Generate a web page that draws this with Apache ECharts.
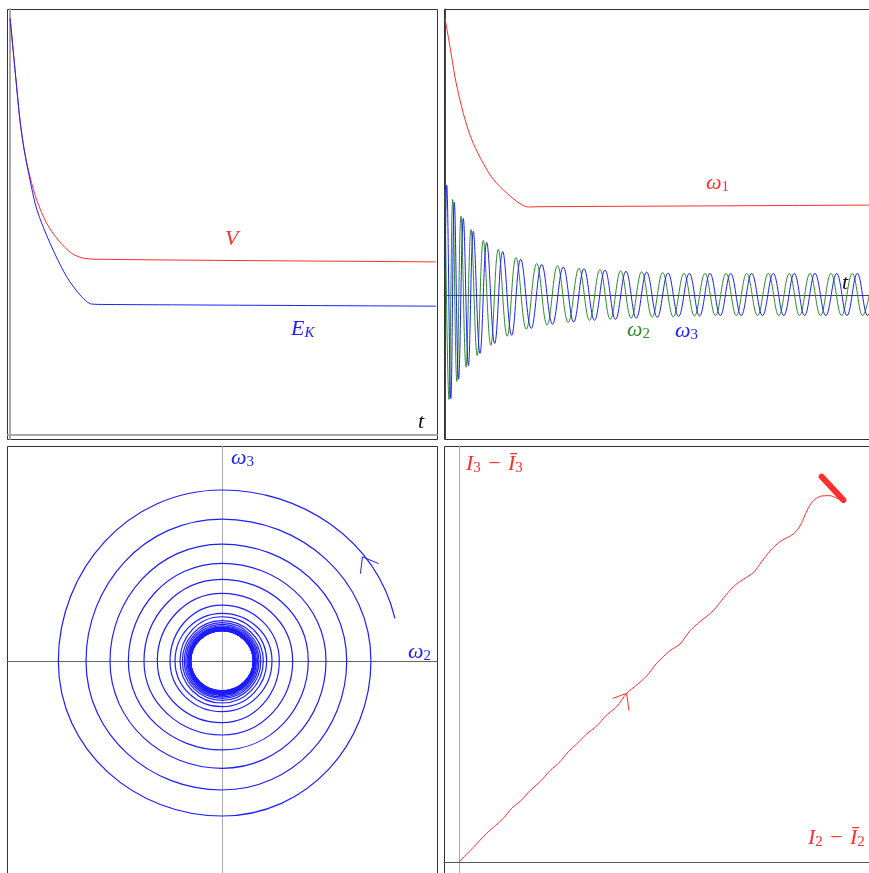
<!DOCTYPE html>
<html>
<head>
<meta charset="utf-8">
<script src="https://cdn.jsdelivr.net/npm/echarts@6/dist/echarts.min.js"></script>
<style>
  html, body { margin: 0; padding: 0; background: #fff; }
  #chart { width: 869px; height: 873px; }
</style>
</head>
<body>
<div id="chart"></div>
<script>
// ---- Panel 1: potential V and kinetic energy E_K against t ----
const potentialV = [[0, 9.78], [0.26, 8.41], [0.46, 7.39], [0.66, 6.69], [0.93, 6.06], [1.25, 5.51],
  [1.71, 4.97], [2.26, 4.57], [2.886, 4.26], [3.51, 4.14], [4.45, 4.12], [11.2, 4.09], [19.95, 4.06]];
const kineticEK = [[0, 9.78], [0.26, 8.41], [0.46, 7.39], [0.66, 6.69], [0.884, 6.10], [1.245, 5.30],
  [1.868, 4.50], [2.651, 3.71], [3.354, 3.24], [3.822, 3.07], [4.445, 3.06], [19.95, 3.02]];

// ---- Panel 2: angular velocity components against t ----
const omega1 = [[0, 6.44], [0.231, 5.78], [0.465, 5.08], [0.699, 4.54], [1.012, 3.96], [1.322, 3.535],
  [1.79, 3.07], [2.259, 2.70], [2.887, 2.38], [3.51, 2.135], [3.899, 2.056], [4.45, 2.062], [12, 2.08], [20.05, 2.10]];
// turning points (peaks and troughs) of the two transverse components
const omega2 = [[0, 2.44], [0.184, -2.42], [0.358, 2.23], [0.552, -2.0], [0.746, 1.84], [0.981, -1.67],
  [1.215, 1.53], [1.506, -1.40], [1.791, 1.28], [2.143, -1.16], [2.494, 1.07], [2.911, -0.95],
  [3.324, 0.88], [3.807, -0.79], [4.294, 0.74], [4.781, -0.69], [5.268, 0.69], [5.77, -0.63],
  [6.276, 0.63], [6.768, -0.58], [7.26, 0.60], [7.743, -0.56], [8.23, 0.57], [8.722, -0.53],
  [9.214, 0.55], [9.706, -0.51], [10.198, 0.53], [10.695, -0.50], [11.196, 0.51], [11.688, -0.48],
  [12.18, 0.51], [12.672, -0.47], [13.165, 0.51], [13.648, -0.47], [14.135, 0.51], [14.641, -0.47],
  [15.147, 0.51], [15.639, -0.47], [16.131, 0.51], [16.613, -0.47], [17.101, 0.51], [17.593, -0.47],
  [18.085, 0.51], [18.582, -0.47], [19.083, 0.51], [19.565, -0.47], [20.05, 0.51]];
const omega3 = [[0, 0.6], [0.076, 2.56], [0.269, -2.40], [0.433, 2.16], [0.634, -1.95], [0.854, 1.79],
  [1.093, -1.63], [1.323, 1.49], [1.637, -1.35], [1.951, 1.23], [2.326, -1.12], [2.70, 1.02],
  [3.122, -0.93], [3.544, 0.84], [4.036, -0.77], [4.528, 0.72], [5.034, -0.67], [5.54, 0.66],
  [6.028, -0.62], [6.51, 0.62], [7.002, -0.58], [7.494, 0.59], [7.986, -0.56], [8.478, 0.56],
  [8.961, -0.53], [9.448, 0.54], [9.945, -0.51], [10.447, 0.52], [10.943, -0.49], [11.445, 0.51],
  [11.927, -0.48], [12.415, 0.51], [12.898, -0.47], [13.385, 0.51], [13.877, -0.47], [14.369, 0.51],
  [14.875, -0.47], [15.381, 0.51], [15.873, -0.47], [16.365, 0.51], [16.848, -0.47], [17.335, 0.51],
  [17.841, -0.47], [18.352, 0.51], [18.835, -0.47], [19.317, 0.51], [19.8, -0.47], [20.29, 0.51]];

// ---- Panel 3: phase portrait (omega2, omega3) ----
// starting point, then the axis crossings of each turn
const spiralStart = [2.574, 0.635];
const crossTop    = [2.545, 2.113, 1.741, 1.454, 1.216, 1.007, 0.833, 0.710, 0.659, 0.600, 0.570, 0.545, 0.525,
  0.508, 0.500, 0.494, 0.489, 0.485, 0.481, 0.477, 0.474, 0.471, 0.468, 0.465, 0.462, 0.459, 0.457, 0.455, 0.453, 0.451, 0.449];
const crossLeft   = [2.436, 2.024, 1.667, 1.394, 1.161, 0.963, 0.774, 0.699, 0.625, 0.590, 0.562, 0.540, 0.520,
  0.504, 0.498, 0.494, 0.490, 0.487, 0.484, 0.481, 0.479, 0.477, 0.475, 0.473, 0.471, 0.470, 0.469, 0.468, 0.467, 0.466, 0.465];
const crossBottom = [2.307, 1.920, 1.597, 1.324, 1.101, 0.918, 0.754, 0.680, 0.625, 0.585, 0.556, 0.535, 0.515,
  0.500, 0.493, 0.487, 0.482, 0.478, 0.474, 0.470, 0.466, 0.463, 0.460, 0.457, 0.454, 0.451, 0.449, 0.447, 0.445, 0.443, 0.442];
const crossRight  = [2.217, 1.856, 1.548, 1.284, 1.052, 0.853, 0.744, 0.665, 0.615, 0.578, 0.550, 0.530, 0.512,
  0.497, 0.494, 0.490, 0.487, 0.484, 0.481, 0.479, 0.477, 0.475, 0.473, 0.471, 0.470, 0.469, 0.468, 0.467, 0.466, 0.465, 0.465];
const spiralArrow = [[2.33, 1.45], [2.09, 1.55], [2.06, 1.30]];

// ---- Panel 4: (I2 - Ī2, I3 - Ī3) trajectory ----
const inertiaPath = [[0, 0], [0.333, 0.341], [0.643, 0.667], [0.798, 0.806], [1.031, 1.016], [1.225, 1.248],
  [1.457, 1.442], [1.651, 1.659], [1.884, 1.868], [2.116, 2.124], [2.349, 2.333], [2.543, 2.566],
  [2.736, 2.744], [2.969, 2.977], [3.202, 3.163], [3.434, 3.419], [3.667, 3.612], [3.899, 3.922],
  [4.132, 4.116], [4.364, 4.326], [4.597, 4.620], [4.907, 4.915], [5.140, 5.070], [5.372, 5.380],
  [5.605, 5.589], [5.915, 5.845], [6.147, 6.132], [6.380, 6.403], [6.612, 6.574], [6.845, 6.729],
  [7.039, 6.984], [7.233, 7.233], [7.465, 7.450], [7.775, 7.628], [7.930, 7.814], [8.047, 8.070],
  [8.163, 8.302], [8.279, 8.434], [8.434, 8.512], [8.628, 8.519], [8.822, 8.442], [8.938, 8.419]];
const inertiaLimit = [[8.938, 8.419], [8.435, 8.96]];
const inertiaArrow = [[3.574, 3.805], [3.899, 3.922], [3.953, 3.519]];

// spiral vertices in drawing order, then consecutive pairs as arc pieces
const spiralPts = [spiralStart];
for (let i = 0; i < crossTop.length; i++) {
  spiralPts.push([0, crossTop[i]], [-crossLeft[i], 0], [0, -crossBottom[i]], [crossRight[i], 0]);
}
const spiralPieces = [];
for (let i = 0; i + 1 < spiralPts.length; i++) {
  spiralPieces.push([spiralPts[i][0], spiralPts[i][1], spiralPts[i + 1][0], spiralPts[i + 1][1]]);
}

const RED = 'rgb(255,45,45)', BLUE = 'rgb(30,30,255)', GREEN = 'rgb(45,140,45)', INK = '#111';
const SERIF = '"Liberation Serif", "DejaVu Serif", serif';

// one piece of the spiral: a cubic arc between two vertices, tangent to circles about the origin
function renderSpiralPiece(params, api) {
  const c = api.coord([0, 0]);
  const p0 = api.coord([api.value(0), api.value(1)]);
  const p1 = api.coord([api.value(2), api.value(3)]);
  const a0 = Math.atan2(p0[1] - c[1], p0[0] - c[0]);
  const a1 = Math.atan2(p1[1] - c[1], p1[0] - c[0]);
  let d = a1 - a0;
  while (d > Math.PI) d -= 2 * Math.PI;
  while (d < -Math.PI) d += 2 * Math.PI;
  const r0 = Math.hypot(p0[0] - c[0], p0[1] - c[1]);
  const r1 = Math.hypot(p1[0] - c[0], p1[1] - c[1]);
  const k = 4 / 3 * Math.tan(Math.abs(d) / 4) * Math.sign(d);
  return {
    type: 'bezierCurve',
    shape: {
      x1: p0[0], y1: p0[1], x2: p1[0], y2: p1[1],
      cpx1: p0[0] - k * r0 * Math.sin(a0), cpy1: p0[1] + k * r0 * Math.cos(a0),
      cpx2: p1[0] + k * r1 * Math.sin(a1), cpy2: p1[1] - k * r1 * Math.cos(a1)
    },
    style: { stroke: BLUE, fill: 'none', lineWidth: 1.2 },
    silent: true
  };
}

function richFor(color) {
  return {
    m: { fontFamily: SERIF, fontStyle: 'italic', fontSize: 22, lineHeight: 24, fill: color },
    n: { fontFamily: SERIF, fontSize: 22, lineHeight: 24, fill: color },
    s: { fontFamily: SERIF, fontSize: 15, lineHeight: 14, verticalAlign: 'bottom', fill: color },
    si: { fontFamily: SERIF, fontStyle: 'italic', fontSize: 15, lineHeight: 14, verticalAlign: 'bottom', fill: color }
  };
}
function mathLabel(x, y, text, color) {
  return { type: 'text', x, y, silent: true, z: 100,
    style: { text, align: 'left', verticalAlign: 'middle', fill: color, rich: richFor(color) } };
}
// panel frames (they run past the right and bottom edges of the page)
function frameRect(x, y, w, h) {
  return { type: 'rect', silent: true, z: -10,
    shape: { x, y, width: w, height: h }, style: { fill: 'none', stroke: '#333', lineWidth: 1 } };
}

function axisBase(gridIndex, min, max, color, width) {
  return {
    gridIndex, type: 'value', min, max,
    axisLine: { show: true, onZero: true, lineStyle: { color, width } },
    axisTick: { show: false }, axisLabel: { show: false }, splitLine: { show: false }
  };
}
function curve(xi, data, color, extra) {
  return Object.assign({
    type: 'line', xAxisIndex: xi, yAxisIndex: xi, data, showSymbol: false, silent: true,
    animation: false, lineStyle: { color, width: 1 }
  }, extra || {});
}

const option = {
  animation: false,
  backgroundColor: '#fff',
  grid: [
    { left: 8, top: 9, width: 429, height: 430 },
    { left: 444, top: 9, width: 425, height: 430 },
    { left: 7, top: 446, width: 430, height: 427 },
    { left: 444, top: 446, width: 425, height: 427 }
  ],
  xAxis: [
    axisBase(0, -0.1, 20, '#aaa', 2),
    axisBase(1, -0.05, 19.866, '#444', 1),
    axisBase(2, -3.2, 3.2, '#666', 1),
    axisBase(3, -0.349, 9.535, '#555', 1)
  ],
  yAxis: [
    axisBase(0, -0.1, 10, '#aaa', 2),
    axisBase(1, -3.34, 6.66, '#444', 1),
    axisBase(2, -3.155, 3.2, '#aaa', 1),
    axisBase(3, -0.256, 9.674, '#aaa', 1)
  ],
  series: [
    curve(0, potentialV, RED, { smooth: 0.3 }),
    curve(0, kineticEK, BLUE, { smooth: 0.3 }),
    curve(1, omega1, RED, { smooth: 0.3 }),
    curve(1, omega2, GREEN, { smooth: 0.4 }),
    curve(1, omega3, BLUE, { smooth: 0.4 }),
    {
      type: 'custom', xAxisIndex: 2, yAxisIndex: 2, data: spiralPieces,
      encode: { x: [0, 2], y: [1, 3] }, renderItem: renderSpiralPiece,
      silent: true, animation: false, clip: true
    },
    curve(2, spiralArrow, BLUE),
    curve(3, inertiaPath, RED, { smooth: 0.3 }),
    curve(3, inertiaLimit, RED, { lineStyle: { color: RED, width: 6, cap: 'round' } }),
    curve(3, inertiaArrow, RED)
  ],
  graphic: [
    frameRect(7.5, 9.5, 430, 430),
    frameRect(444.5, 9.5, 440, 430),
    frameRect(7.5, 446.5, 430, 440),
    frameRect(444.5, 446.5, 440, 440),
    mathLabel(225, 239, '{m|V}', RED),
    mathLabel(291, 329, '{m|E}{si|K}', BLUE),
    mathLabel(418, 422, '{m|t}', INK),
    mathLabel(706, 183, '{m|ω}{s|1}', RED),
    mathLabel(627, 330, '{m|ω}{s|2}', GREEN),
    mathLabel(675, 331, '{m|ω}{s|3}', BLUE),
    mathLabel(842, 283, '{m|t}', INK),
    mathLabel(231, 458, '{m|ω}{s|3}', BLUE),
    mathLabel(408, 652, '{m|ω}{s|2}', BLUE),
    mathLabel(466, 464, '{m|I}{s|3}{n|\u2004−\u2004}{m|Ī}{s|3}', RED),
    mathLabel(808, 838, '{m|I}{s|2}{n|\u2004−\u2004}{m|Ī}{s|2}', RED)
  ]
};

const chart = echarts.init(document.getElementById('chart'), null, { renderer: 'canvas' });
chart.setOption(option);
</script>
</body>
</html>
